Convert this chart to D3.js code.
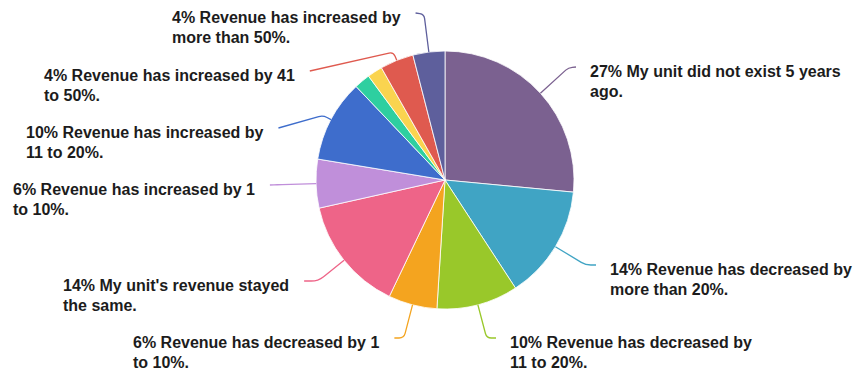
<!DOCTYPE html>
<html>
<head>
<meta charset="utf-8">
<script src="https://cdn.jsdelivr.net/npm/d3@7/dist/d3.min.js"></script>
<style>
  html, body { margin: 0; padding: 0; background: #fff; }
  svg { display: block; }
  text { font-family: "Liberation Sans", Arial, Helvetica, sans-serif; font-weight: bold; font-size: 16px; fill: #1c1c1c; }
</style>
</head>
<body>
<svg id="chart" width="859" height="373"></svg>
<script>
// ---- data ----
const categories = [
  "My unit did not exist 5 years ago.",
  "Revenue has decreased by more than 20%.",
  "Revenue has decreased by 11 to 20%.",
  "Revenue has decreased by 1 to 10%.",
  "My unit's revenue stayed the same.",
  "Revenue has increased by 1 to 10%.",
  "Revenue has increased by 11 to 20%.",
  "Revenue has increased by 21 to 30%.",
  "Revenue has increased by 31 to 40%.",
  "Revenue has increased by 41 to 50%.",
  "Revenue has increased by more than 50%."
];
const values = [26.5, 14.3, 10.2, 6.1, 14.4, 6.1, 10.3, 2.0, 1.9, 4.2, 4.0];
const percentLabels = ["27%", "14%", "10%", "6%", "14%", "6%", "10%", null, null, "4%", "4%"];
const labelLines = [
  ["27% My unit did not exist 5 years", "ago."],
  ["14% Revenue has decreased by", "more than 20%."],
  ["10% Revenue has decreased by", "11 to 20%."],
  ["6% Revenue has decreased by 1", "to 10%."],
  ["14% My unit's revenue stayed", "the same."],
  ["6% Revenue has increased by 1", "to 10%."],
  ["10% Revenue has increased by", "11 to 20%."],
  null,
  null,
  ["4% Revenue has increased by 41", "to 50%."],
  ["4% Revenue has increased by", "more than 50%."]
];

// ---- styling / layout (not data) ----
const colors = ["#7b6190", "#40a4c4", "#99c82a", "#f4a41f", "#ee6488", "#c08fda",
                "#3e6dcc", "#2ecfa0", "#fad44f", "#df5a4f", "#5e5f9c"];
// label anchor: left x of text, first baseline, side (which end the connector attaches to)
const labelPos = [
  {x: 590, y: 77, side: "right"},
  {x: 610, y: 275, side: "right"},
  {x: 510, y: 348, side: "right"},
  {x: 133, y: 348, side: "left"},
  {x: 63,  y: 291, side: "left"},
  {x: 13,  y: 195, side: "left"},
  {x: 26,  y: 138, side: "left"},
  null,
  null,
  {x: 44,  y: 81,  side: "left"},
  {x: 172, y: 23,  side: "left"}
];
const cx = 445, cy = 180, R = 129, lineH = 20;

const svg = d3.select("#chart");
const g = svg.append("g").attr("transform", `translate(${cx},${cy})`);

const pie = d3.pie().sort(null).value(d => d)(values);
const arc = d3.arc().innerRadius(0).outerRadius(R);

g.selectAll("path.slice")
  .data(pie)
  .join("path")
  .attr("class", "slice")
  .attr("d", arc)
  .attr("fill", (d, i) => colors[i])
  .attr("stroke", "#ffffff")
  .attr("stroke-width", 0.8)
  .attr("stroke-linejoin", "round");

// labels
const lg = svg.append("g");
pie.forEach((d, i) => {
  if (!labelLines[i]) return;
  const p = labelPos[i];
  const t = lg.append("text").attr("x", p.x).attr("y", p.y);
  labelLines[i].forEach((ln, k) => {
    t.append("tspan").attr("x", p.x).attr("y", p.y + k * lineH).text(ln);
  });
  let w = 0;
  t.selectAll("tspan").each(function() { w = Math.max(w, this.getComputedTextLength()); });

  // connector end point
  const ex = p.side === "right" ? p.x - 14 : p.x + w + 15;
  const ey = p.y - 10;

  // start on pie edge at mid angle
  const a = (d.startAngle + d.endAngle) / 2;
  const dx = Math.sin(a), dy = -Math.cos(a);
  const sx = cx + R * dx, sy = cy + R * dy;

  // elbow along radial line, toward end y
  let tt = Math.abs(dy) > 1e-3 ? (ey - cy) / dy : Infinity;
  if (!(tt > 0) || tt > R + 38) tt = R + 38;
  if (tt < R + 9) tt = R + 9;
  const bx = cx + tt * dx, by = cy + tt * dy;

  // rounded corner
  const l1 = Math.hypot(bx - sx, by - sy), l2 = Math.hypot(ex - bx, ey - by);
  const k = Math.min(8, l1 / 2, l2 / 2);
  const ax = bx - (bx - sx) / l1 * k, ay = by - (by - sy) / l1 * k;
  const cx2 = bx + (ex - bx) / l2 * k, cy2 = by + (ey - by) / l2 * k;
  const path = d3.path();
  path.moveTo(sx, sy);
  path.lineTo(ax, ay);
  path.quadraticCurveTo(bx, by, cx2, cy2);
  path.lineTo(ex, ey);

  lg.append("path")
    .attr("d", path.toString())
    .attr("fill", "none")
    .attr("stroke", colors[i])
    .attr("stroke-width", 1.3);
});
</script>
</body>
</html>
